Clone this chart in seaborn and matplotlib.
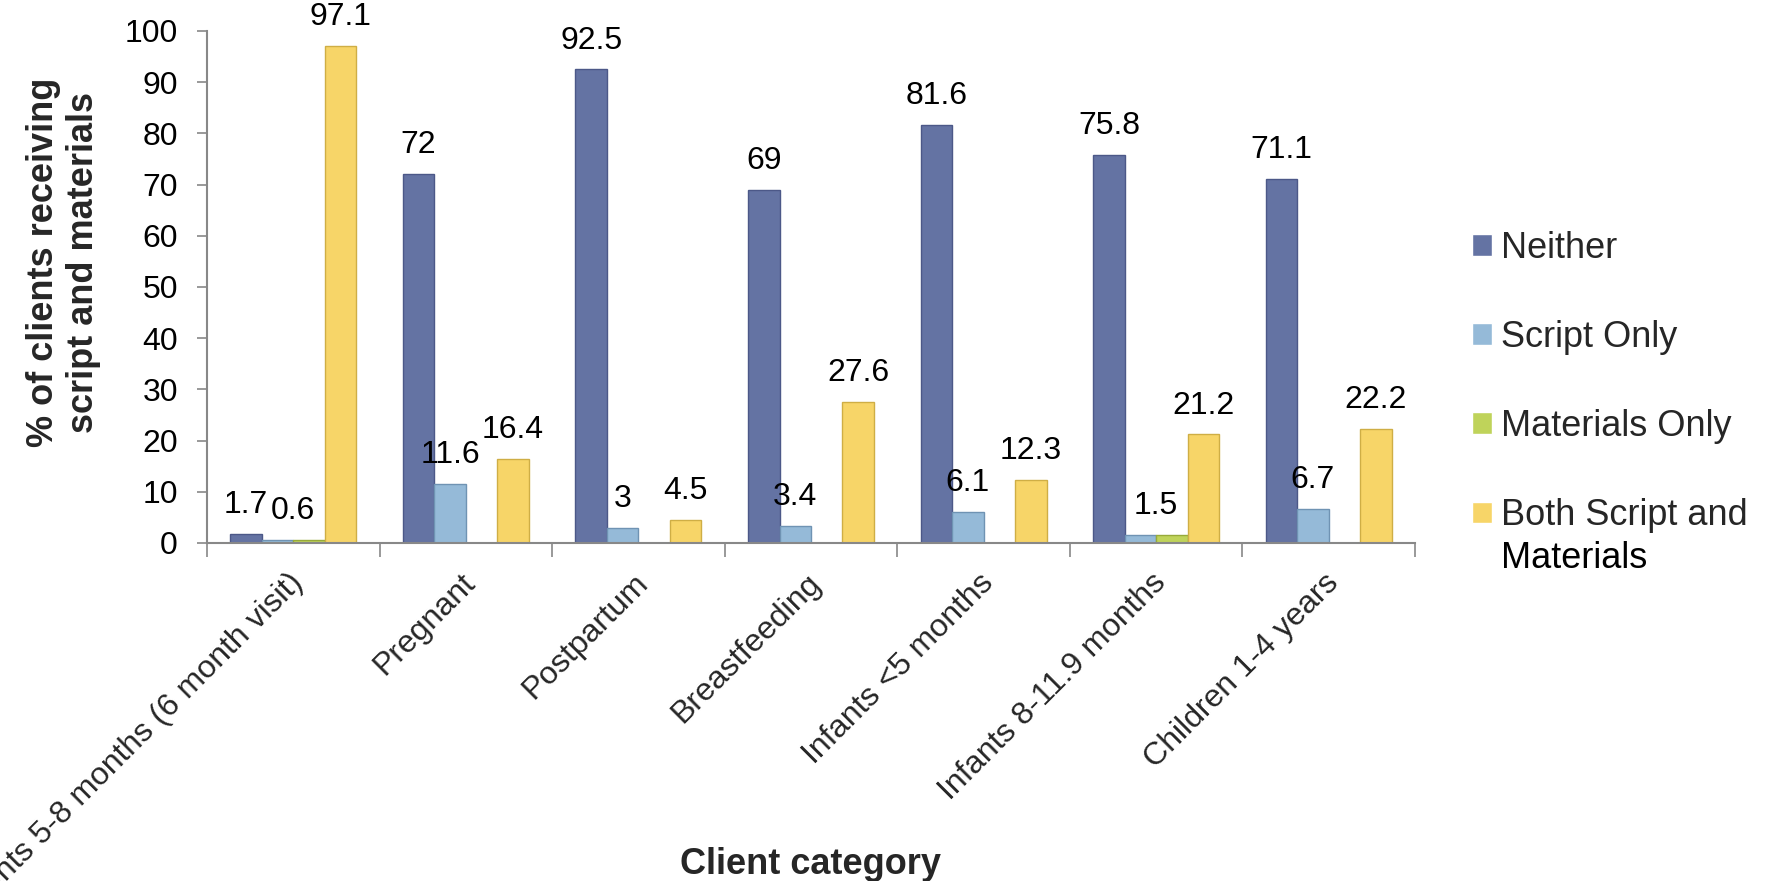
import numpy as np
import pandas as pd
import matplotlib
matplotlib.use("Agg")
import matplotlib.pyplot as plt
import matplotlib.transforms as mtransforms
import seaborn as sns

categories = ["Infants 5-8 months (6 month visit)", "Pregnant", "Postpartum",
              "Breastfeeding", "Infants <5 months", "Infants 8-11.9 months",
              "Children 1-4 years"]
series = ["Neither", "Script Only", "Materials Only", "Both Script and Materials"]
legend_labels = ["Neither", "Script Only", "Materials Only", "Both Script and"]
legend_extra_line = "Materials"
neither = [1.7, 72, 92.5, 69, 81.6, 75.8, 71.1]
script_only = [0.6, 11.6, 3, 3.4, 6.1, 1.5, 6.7]
materials_only = [0.6, 0, 0, 0, 0, 1.5, 0]
both = [97.1, 16.4, 4.5, 27.6, 12.3, 21.2, 22.2]
colors = ["#6473A3", "#95BAD8", "#BFD35A", "#F7D568"]
edges = ["#4C5888", "#6F93B3", "#97AA3A", "#CFAE45"]

values = [neither, script_only, materials_only, both]
df = pd.DataFrame({
    "category": categories * len(series),
    "series": [s for s in series for _ in categories],
    "value": [v for vals in values for v in vals],
})

sns.set_theme(style="white")
plt.rcParams["font.family"] = ["Liberation Sans", "DejaVu Sans"]

fig = plt.figure(figsize=(17.73, 8.81), dpi=100)
ax = fig.add_axes([207 / 1773, 1 - 543 / 881, 1208 / 1773, 512 / 881])

sns.barplot(data=df, x="category", y="value", hue="series", order=categories,
            hue_order=series, palette=colors, width=0.73, saturation=1,
            dodge=True, ax=ax, legend=True)

for cont, ec in zip(ax.containers, edges):
    for p in cont:
        p.set_edgecolor(ec)
        p.set_linewidth(1.0)

ax.set_ylim(0, 100)
ax.set_xlim(-0.5, len(categories) - 0.5)
ax.set_yticks(np.arange(0, 101, 10))
ax.tick_params(axis="y", labelsize=23, length=7, width=1.2, color="#888888",
               pad=14, left=True, labelcolor="black")

# x ticks: labels at centers, tick marks at category boundaries
ax.set_xticks(range(len(categories)))
ax.set_xticklabels(categories, rotation=45, ha="right", rotation_mode="anchor",
                   fontsize=23)
ax.tick_params(axis="x", which="major", length=0, pad=18)
ax.set_xticks(np.arange(-0.5, len(categories), 1), minor=True)
ax.tick_params(axis="x", which="minor", length=10, width=1.2, color="#888888",
               bottom=True)
offset = mtransforms.ScaledTranslation(-4 / 72, 0, fig.dpi_scale_trans)
for lab in ax.get_xticklabels():
    lab.set_transform(lab.get_transform() + offset)

for side in ["top", "right"]:
    ax.spines[side].set_visible(False)
for side in ["left", "bottom"]:
    ax.spines[side].set_color("#888888")
    ax.spines[side].set_linewidth(1.5)

# data labels
conts = ax.containers
for si, cont in enumerate(conts):
    for ci, p in enumerate(cont):
        v = values[si][ci]
        if v <= 0:
            continue
        x = p.get_x() + p.get_width() / 2
        if series[si] == "Materials Only" and values[1][ci] == v:
            continue
        if series[si] == "Script Only" and values[2][ci] == v:
            q = conts[2][ci]
            x = (x + q.get_x() + q.get_width() / 2) / 2
        ax.annotate(f"{v:g}", (x, v), xytext=(0, 10), textcoords="offset points",
                    ha="center", va="bottom", fontsize=23, color="black")

ax.set_xlabel("Client category", fontsize=26, fontweight="bold", va="top")
ax.xaxis.set_label_coords(0.5, -0.594)
ax.set_ylabel("% of clients receiving\nscript and materials", fontsize=26,
              fontweight="bold", va="center", ha="center",
              multialignment="center", linespacing=1.2)
ax.yaxis.set_label_coords(-0.119, 0.548)

handles, _ = ax.get_legend_handles_labels()
leg = ax.legend(handles, legend_labels, loc="center left",
                bbox_to_anchor=(1472 / 1773, 1 - 382 / 881),
                bbox_transform=fig.transFigure, frameon=False, fontsize=26,
                handlelength=0.55, handleheight=0.55, handletextpad=0.25,
                labelspacing=1.5, borderpad=0, borderaxespad=0)

# second line of the last legend label, aligned under its first line
fig.canvas.draw()
last = leg.get_texts()[-1]
bb = last.get_window_extent(renderer=fig.canvas.get_renderer())
fig.text(bb.x0 / fig.bbox.width, (bb.y0 - 8) / fig.bbox.height, legend_extra_line,
         fontsize=26, ha="left", va="top", color="black")

fig.savefig("out.png", dpi=100)
